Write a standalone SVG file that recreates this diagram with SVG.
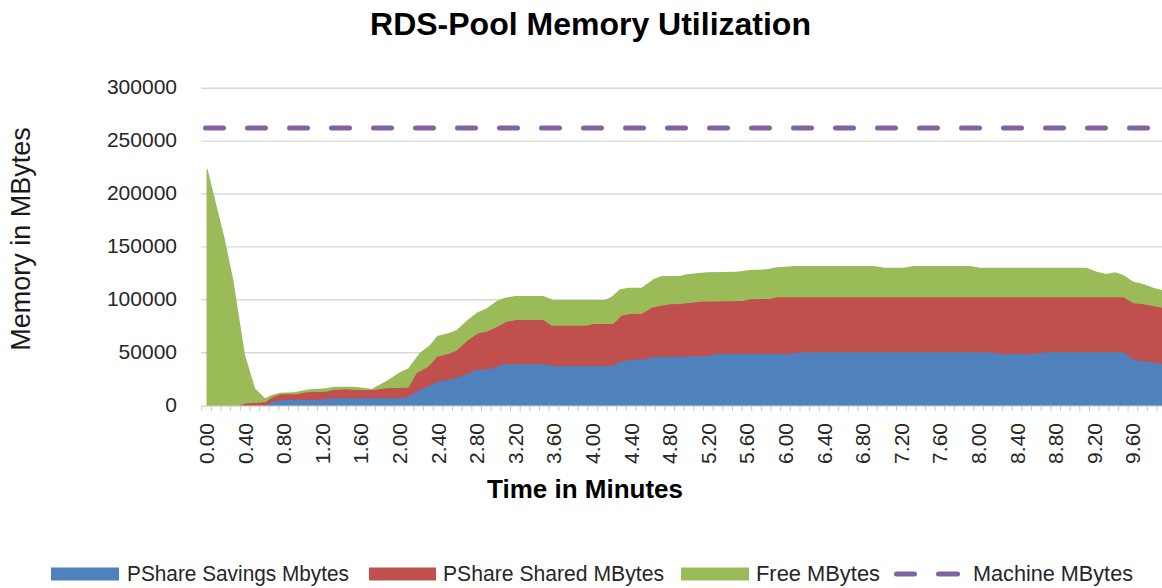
<svg xmlns="http://www.w3.org/2000/svg" width="1162" height="588" viewBox="0 0 1162 588">
  <defs>
    <style>
      .title { font-family: "Liberation Sans", Arial, sans-serif; font-weight: bold; font-size: 32px; fill: #000; }
      .axt { font-family: "Liberation Sans", Arial, sans-serif; font-weight: bold; font-size: 26px; fill: #000; }
      .yaxt { font-family: "Liberation Sans", Arial, sans-serif; font-size: 27px; fill: #1a1a1a; }
      .tick { font-family: "Liberation Sans", Arial, sans-serif; font-size: 21px; fill: #262626; }
      .leg { font-family: "Liberation Sans", Arial, sans-serif; font-size: 22px; fill: #262626; }
      .grid { stroke: #d9d9d9; stroke-width: 1.4; fill: none; }
      .blue { fill: #4f81bd; }
      .red { fill: #c0504d; }
      .green { fill: #9bbb59; }
      .machine { stroke: #8064a2; stroke-width: 5; fill: none; stroke-linecap: round; }
    </style>
    <pattern id="ticks" patternUnits="userSpaceOnUse" x="201.2" y="406" width="9.65" height="6">
      <rect x="0" y="0" width="1" height="6" fill="#c8c8c8"/>
    </pattern>
  </defs>
  <rect width="1162" height="588" fill="#ffffff"/>

  <g id="title">
    <text class="title" x="590.5" y="35" text-anchor="middle">RDS-Pool Memory Utilization</text>
  </g>

  <g id="gridlines">
    <line class="grid" x1="201" y1="88.2" x2="1162" y2="88.2"/>
    <line class="grid" x1="201" y1="141.1" x2="1162" y2="141.1"/>
    <line class="grid" x1="201" y1="194" x2="1162" y2="194"/>
    <line class="grid" x1="201" y1="246.9" x2="1162" y2="246.9"/>
    <line class="grid" x1="201" y1="299.8" x2="1162" y2="299.8"/>
    <line class="grid" x1="201" y1="352.7" x2="1162" y2="352.7"/>
  </g>

  <g id="series-free">
    <path class="green" d="M206.5,406 L206.5,170 L207.3,168.3 L225,240 L233.3,280 L245,355 L255,388.3 L265,398.3 L271.7,395 L280,392.7 L293.3,392.3 L310,389.3 L326.7,388.3 L333.3,386.7 L353.3,386.7 L363.3,387.7 L371.7,389 L386.7,380.7 L400,372.3 L408.3,368.3 L420,352.7 L430,345 L437.3,336 L448.3,333.3 L456.7,330 L466.7,320.7 L476.7,312.7 L486.7,308.3 L496.7,301 L505,297.7 L515,296 L543.3,296 L553.3,300 L605,300 L611.7,296.7 L620,289.3 L628.3,287.7 L641.7,287.7 L653.3,279.3 L661.7,276 L680,276 L686.7,274.3 L706.7,272.3 L736.7,271.7 L750,270 L766.7,269.3 L776.7,267.3 L795,266 L873.3,266 L885,267.7 L903.3,267.7 L913.3,266 L970,266 L980,267.7 L1086.7,267.7 L1096.7,271.7 L1106.7,274 L1115,272.3 L1123.3,275 L1133.3,281.7 L1143.3,284 L1153.3,287.7 L1162,290 L1162,406 Z"/>
  </g>

  <g id="series-shared">
    <path class="red" d="M238.3,406 L246.7,403.3 L265,402.3 L273.3,396.7 L281.7,394.3 L296.7,394.3 L306.7,392.3 L326.7,391.7 L333.3,390 L346.7,389.3 L353.3,390 L373.3,390 L386.7,388.3 L408.3,387.7 L416.7,373.3 L428.3,366.7 L437.3,356.7 L448.3,354 L456.7,350.7 L468.3,340 L478.3,333.3 L486.7,331.7 L496.7,327.3 L506.7,321.7 L516.7,320 L543.3,320 L551.7,325.7 L586.7,325.7 L593.3,324 L613.3,324 L621.7,315.7 L630,314 L641.7,314 L651.7,307.7 L661.7,305.7 L670,304.3 L680,304 L686.7,303.3 L700,301.7 L743.3,301 L750,299.3 L770,299 L776.7,297.3 L1123.3,297.3 L1133.3,303.3 L1143.3,304.3 L1162,307.7 L1162,406 Z"/>
  </g>

  <g id="series-savings">
    <path class="blue" d="M265,406 L271.7,402.3 L281.7,400 L320,400 L330,398.3 L403.3,398.3 L410,395.7 L420,390 L430,385.7 L437.3,381.7 L448.3,380 L460,376.7 L468.3,373.3 L476.7,370 L490,369.3 L503.3,364.3 L546.7,364.3 L553.3,366 L611.7,366 L623.3,361 L630,360 L643.3,359.3 L653.3,357.3 L661.7,356.7 L680,356.7 L706.7,356 L716.7,354 L790,354 L803.3,352.3 L990,352.3 L1000,354 L1033.3,354 L1046.7,352.3 L1123.3,352.3 L1133.3,360 L1143.3,361 L1162,364 L1162,406 Z"/>
  </g>

  <g id="series-machine">
    <line class="machine" x1="205.5" y1="128" x2="1162" y2="128" stroke-dasharray="18 24"/>
  </g>

  <g id="x-axis">
    <line x1="201" y1="406" x2="1162" y2="406" stroke="#c8c8c8" stroke-width="1.2"/>
    <rect x="201.2" y="406" width="961" height="5" fill="url(#ticks)"/>
    <g class="tick" text-anchor="end">
      <text transform="translate(214,423) rotate(-90)">0.00</text>
      <text transform="translate(252.6,423) rotate(-90)">0.40</text>
      <text transform="translate(291.2,423) rotate(-90)">0.80</text>
      <text transform="translate(329.8,423) rotate(-90)">1.20</text>
      <text transform="translate(368.4,423) rotate(-90)">1.60</text>
      <text transform="translate(407,423) rotate(-90)">2.00</text>
      <text transform="translate(445.6,423) rotate(-90)">2.40</text>
      <text transform="translate(484.2,423) rotate(-90)">2.80</text>
      <text transform="translate(522.8,423) rotate(-90)">3.20</text>
      <text transform="translate(561.4,423) rotate(-90)">3.60</text>
      <text transform="translate(600,423) rotate(-90)">4.00</text>
      <text transform="translate(638.6,423) rotate(-90)">4.40</text>
      <text transform="translate(677.2,423) rotate(-90)">4.80</text>
      <text transform="translate(715.8,423) rotate(-90)">5.20</text>
      <text transform="translate(754.4,423) rotate(-90)">5.60</text>
      <text transform="translate(793,423) rotate(-90)">6.00</text>
      <text transform="translate(831.6,423) rotate(-90)">6.40</text>
      <text transform="translate(870.2,423) rotate(-90)">6.80</text>
      <text transform="translate(908.8,423) rotate(-90)">7.20</text>
      <text transform="translate(947.4,423) rotate(-90)">7.60</text>
      <text transform="translate(986,423) rotate(-90)">8.00</text>
      <text transform="translate(1024.6,423) rotate(-90)">8.40</text>
      <text transform="translate(1063.2,423) rotate(-90)">8.80</text>
      <text transform="translate(1101.8,423) rotate(-90)">9.20</text>
      <text transform="translate(1140.4,423) rotate(-90)">9.60</text>
    </g>
    <text class="axt" x="585" y="498" text-anchor="middle">Time in Minutes</text>
  </g>

  <g id="y-axis">
    <g class="tick" text-anchor="end">
      <text x="177" y="94">300000</text>
      <text x="177" y="147">250000</text>
      <text x="177" y="200">200000</text>
      <text x="177" y="253">150000</text>
      <text x="177" y="306">100000</text>
      <text x="177" y="359">50000</text>
      <text x="177" y="412">0</text>
    </g>
    <text class="yaxt" transform="translate(30,239) rotate(-90)" text-anchor="middle">Memory in MBytes</text>
  </g>

  <g id="legend">
    <g id="legend-savings">
      <rect class="blue" x="51" y="567.5" width="68" height="13"/>
      <text class="leg" x="127" y="581" textLength="222" lengthAdjust="spacingAndGlyphs">PShare Savings Mbytes</text>
    </g>
    <g id="legend-shared">
      <rect class="red" x="369" y="567.5" width="67" height="13"/>
      <text class="leg" x="443" y="581" textLength="221" lengthAdjust="spacingAndGlyphs">PShare Shared MBytes</text>
    </g>
    <g id="legend-free">
      <rect class="green" x="681" y="567.5" width="68" height="13"/>
      <text class="leg" x="756" y="581" textLength="124" lengthAdjust="spacingAndGlyphs">Free MBytes</text>
    </g>
    <g id="legend-machine">
      <line class="machine" x1="896.5" y1="574" x2="914.5" y2="574"/>
      <line class="machine" x1="938.5" y1="574" x2="957.5" y2="574"/>
      <text class="leg" x="973" y="581" textLength="160" lengthAdjust="spacingAndGlyphs">Machine MBytes</text>
    </g>
  </g>
</svg>
